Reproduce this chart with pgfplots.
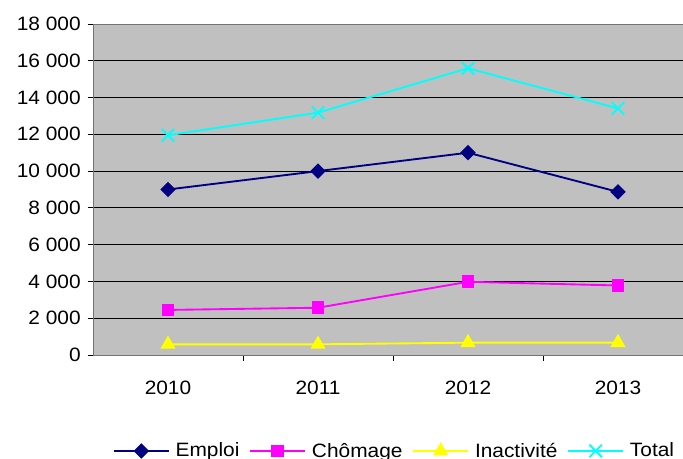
\documentclass[border=0pt]{standalone}
\usepackage{fontspec}
\setmainfont{Liberation Sans}[FakeStretch=1.08]
\usepackage{pgfplots}
\pgfplotsset{compat=1.18}
\definecolor{bgray}{HTML}{C0C0C0}
\definecolor{emploi}{HTML}{000080}
\definecolor{chomage}{HTML}{FF00FF}
\definecolor{inact}{HTML}{FFFF00}
\definecolor{total}{HTML}{00FFFF}

\begin{document}
\begin{tikzpicture}
\useasboundingbox (0,0) rectangle (512.25pt,344.25pt);
\clip (0,0) rectangle (512.25pt,344.25pt);
\begin{axis}[
    at={(69.75pt,78pt)}, anchor=south west,
    scale only axis,
    width=450pt, height=248.25pt,
    font=\fontsize{14.5}{16.5}\selectfont,
    axis background/.style={fill=bgray},
    axis line style={black!55},
    xmin=-0.5, xmax=3.5,
    ymin=0, ymax=18000,
    xtick={0,1,2,3},
    xticklabels={2010,2011,2012,2013},
    minor xtick={0.5,1.5,2.5},
    ytick={0,2000,...,18000},
    xtick pos=bottom, ytick pos=left,
    tick align=outside,
    major tick length=4pt, minor tick length=4.5pt,
    x tick style={draw=none},
    minor x tick style={draw=black, line width=0.6pt},
    y tick style={black, line width=0.6pt},
    ymajorgrids,
    grid style={black, line width=0.7pt},
    scaled y ticks=false,
    /pgf/number format/assume math mode=true,
    /pgf/number format/1000 sep={\ },
    yticklabel style={inner sep=0pt},
    xticklabel style={inner sep=0pt},
    yticklabel shift=5pt,
    xticklabel shift=15pt,
    every axis plot/.append style={line width=1.4pt},
    legend columns=4,
    legend cell align=left,
    legend style={at={(0.033,-0.29)}, anchor=west, draw=none, fill=none,
        inner sep=0pt, nodes={inner xsep=0pt, inner ysep=1pt},
        /tikz/every odd column/.append style={column sep=4.5pt},
        /tikz/every even column/.append style={column sep=7.5pt}},
    legend image code/.code={
        \draw[mark repeat=2, mark phase=2]
        plot coordinates {(0pt,0pt) (20.5pt,0pt) (41pt,0pt)};},
]
\addplot[emploi, mark=square*, mark size=3.4pt, mark options={rotate=45, solid}]
    coordinates {(0,9000) (1,10000) (2,11000) (3,8870)};
\addlegendentry{Emploi}
\addplot[chomage, mark=square*, mark size=4.1pt]
    coordinates {(0,2450) (1,2570) (2,3980) (3,3780)};
\addlegendentry{Chômage}
\addplot[inact, mark=triangle*, mark size=5.2pt]
    coordinates {(0,580) (1,580) (2,670) (3,670)};
\addlegendentry{Inactivité}
\addplot[total, mark=x, mark size=6.6pt]
    coordinates {(0,11950) (1,13180) (2,15590) (3,13410)};
\addlegendentry{Total}
\end{axis}
\end{tikzpicture}
\end{document}
